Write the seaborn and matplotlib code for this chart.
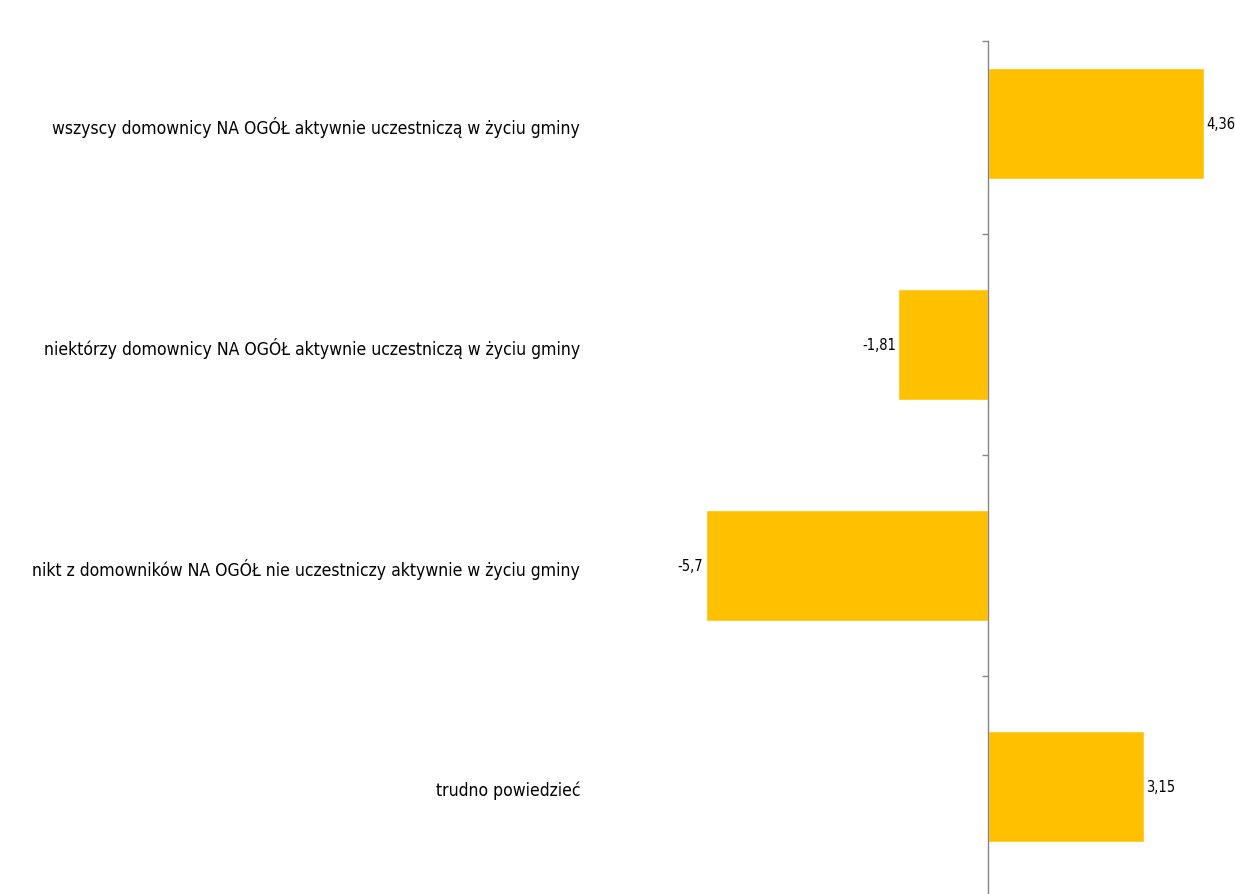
import numpy as np
import pandas as pd
import seaborn as sns
import matplotlib.pyplot as plt
import matplotlib.transforms as mtransforms
import matplotlib.font_manager as fm

categories = [
    "wszyscy domownicy NA OGÓŁ aktywnie uczestniczą w życiu gminy",
    "niektórzy domownicy NA OGÓŁ aktywnie uczestniczą w życiu gminy",
    "nikt z domowników NA OGÓŁ nie uczestniczy aktywnie w życiu gminy",
    "trudno powiedzieć",
]
values = [4.36, -1.81, -5.7, 3.15]

df = pd.DataFrame({"kategoria": categories, "wartosc": values})

# waska czcionka, jesli jest
names = {f.name for f in fm.fontManager.ttflist}
if "Liberation Sans Narrow" in names:
    narrow = "Liberation Sans Narrow"
    stretch = "normal"
else:
    narrow = "DejaVu Sans"
    stretch = "condensed"

sns.set_style("white")
plt.rcParams["font.family"] = [narrow, "DejaVu Sans"]

W, H = 1235, 895
fig = plt.figure(figsize=(W / 100, H / 100), dpi=100)
ax = fig.add_axes([640 / W, 0, (W - 640) / W, (H - 42) / H])

sns.barplot(data=df, y="kategoria", x="wartosc", orient="h", color="#FFC000",
            saturation=1, width=0.5, ax=ax)

ax.set_xlim((640 - 988) / 49.5, (W - 988) / 49.5)
ax.set_ylim(3.487, -0.373)

for s in ["top", "right", "bottom"]:
    ax.spines[s].set_visible(False)
ax.spines["left"].set_position(("data", 0))
ax.spines["left"].set_color("#868686")
ax.spines["left"].set_linewidth(1.0)

ax.set_xticks([])
ax.set_yticks([-0.373, 0.5, 1.5, 2.5])
ax.set_yticklabels([])
ax.tick_params(axis="y", left=True, direction="out", length=4, width=1.0,
               color="#868686")
ax.set_xlabel("")
ax.set_ylabel("")

# etykiety kategorii po lewej
trans = mtransforms.blended_transform_factory(fig.transFigure, ax.transData)
for i, cat in enumerate(categories):
    ax.text(580 / W, i + 0.015, cat, transform=trans, ha="right", va="center",
            fontsize=12.6, fontstretch=stretch, color="black", clip_on=False)

# wartosci przy slupkach
for i, v in enumerate(values):
    lab = f"{v:g}".replace(".", ",")
    if v >= 0:
        ax.text(v + 0.05, i, lab, ha="left", va="center", fontsize=10.5,
                fontstretch=stretch, color="black")
    else:
        ax.text(v - 0.05, i, lab, ha="right", va="center", fontsize=10.5,
                fontstretch=stretch, color="black")

plt.savefig("out.png", dpi=100)
plt.close()
